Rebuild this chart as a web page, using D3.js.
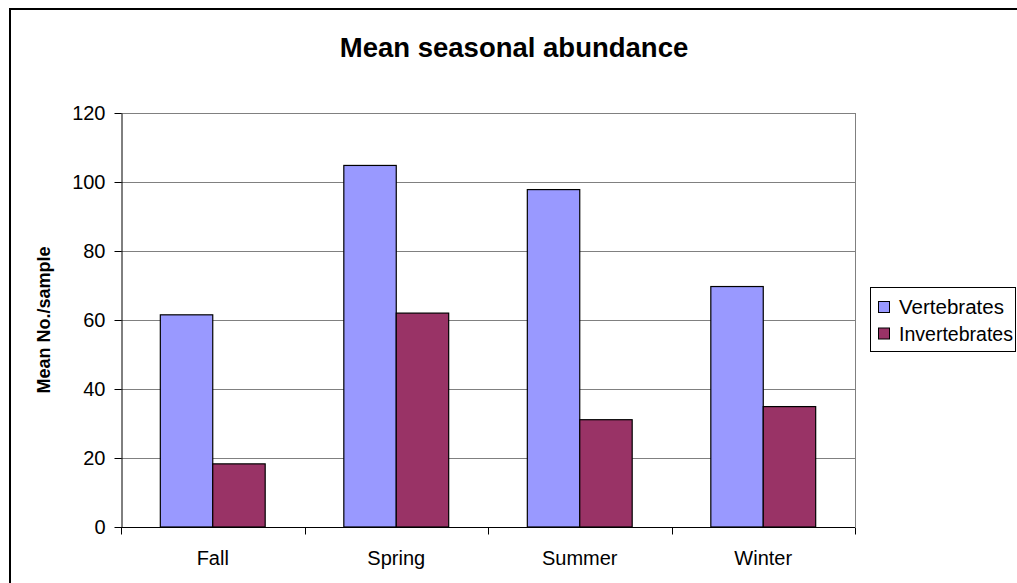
<!DOCTYPE html>
<html>
<head>
<meta charset="utf-8">
<script src="https://cdn.jsdelivr.net/npm/d3@7"></script>
<style>
  html, body { margin: 0; padding: 0; background: #fff; }
  svg { display: block; font-family: "Liberation Sans", Arial, sans-serif; }
</style>
</head>
<body>
<svg id="chart" width="1017" height="583"></svg>
<script>
// Seasons and mean counts per sample
const seasons = ["Fall", "Spring", "Summer", "Winter"];
const seriesNames = ["Vertebrates", "Invertebrates"];
const vertebrates = [61.5, 104.8, 97.8, 69.7];
const invertebrates = [18.3, 62.0, 31.1, 34.9];
const yTicks = [0, 20, 40, 60, 80, 100, 120];
const colors = ["#9999FF", "#993366"];

const svg = d3.select("#chart");
const W = 1017, H = 583;
const plot = { left: 121, right: 855, top: 113, bottom: 527 };

// Outer chart frame (runs off the right and bottom edges)
svg.append("rect")
  .attr("x", 10).attr("y", 9)
  .attr("width", W + 10).attr("height", H + 10)
  .attr("fill", "#fff").attr("stroke", "#000").attr("stroke-width", 2);

const x0 = d3.scaleBand().domain(seasons).range([plot.left, plot.right]).paddingInner(0).paddingOuter(0);
// Excel-style 150% gap: the two bars take 2/3.5 of each band, centred
const groupFrac = 2 / 3.5;
const x1 = d3.scaleBand().domain(seriesNames)
  .range([0, x0.bandwidth() * groupFrac]).padding(0);
const y = d3.scaleLinear().domain([0, 120]).range([plot.bottom, plot.top]);

// Horizontal gridlines
svg.append("g").selectAll("line").data(yTicks.filter(d => d > 0)).join("line")
  .attr("x1", plot.left).attr("x2", plot.right)
  .attr("y1", d => Math.round(y(d)) + 0.5).attr("y2", d => Math.round(y(d)) + 0.5)
  .attr("stroke", "#808080").attr("stroke-width", 1);

// Right edge of plot area
svg.append("line")
  .attr("x1", plot.right + 0.5).attr("x2", plot.right + 0.5)
  .attr("y1", plot.top).attr("y2", plot.bottom)
  .attr("stroke", "#808080").attr("stroke-width", 1);

// Bars
const rows = seasons.map((s, i) => ({ season: s, values: [vertebrates[i], invertebrates[i]] }));
const groups = svg.append("g").selectAll("g").data(rows).join("g")
  .attr("transform", d => `translate(${x0(d.season) + x0.bandwidth() * (1 - groupFrac) / 2},0)`);
groups.selectAll("rect").data(d => d.values.map((v, k) => ({ name: seriesNames[k], v, k }))).join("rect")
  .attr("x", d => x1(d.name))
  .attr("y", d => y(d.v))
  .attr("width", x1.bandwidth())
  .attr("height", d => y(0) - y(d.v))
  .attr("fill", d => colors[d.k])
  .attr("stroke", "#000").attr("stroke-width", 1.2);

// Y axis
const yAxis = d3.axisLeft(y).tickValues(yTicks).tickSize(7).tickPadding(9).tickSizeOuter(0);
const gy = svg.append("g").attr("transform", `translate(${plot.left + 0.5},0)`).call(yAxis);
gy.select(".domain").attr("stroke", "#000");
gy.selectAll(".tick line").attr("stroke", "#000");
gy.selectAll(".tick text").attr("font-size", 20).attr("fill", "#000").attr("font-family", "Liberation Sans, Arial, sans-serif");

// X axis with ticks between categories
const gx = svg.append("g").attr("transform", `translate(0,${plot.bottom + 0.5})`);
gx.append("line").attr("x1", plot.left).attr("x2", plot.right).attr("stroke", "#000");
const bounds = seasons.map(s => x0(s)).concat([plot.right]);
gx.selectAll("line.tk").data(bounds).join("line").attr("class", "tk")
  .attr("x1", d => Math.round(d) + 0.5).attr("x2", d => Math.round(d) + 0.5)
  .attr("y1", 0).attr("y2", 7).attr("stroke", "#000");
gx.selectAll("text").data(seasons).join("text")
  .attr("x", d => x0(d) + x0.bandwidth() / 2)
  .attr("y", 37)
  .attr("text-anchor", "middle").attr("font-size", 20).attr("fill", "#000")
  .text(d => d);

// Title
svg.append("text")
  .attr("x", 514).attr("y", 57)
  .attr("text-anchor", "middle").attr("font-size", 27.5).attr("font-weight", "bold")
  .text("Mean seasonal abundance");

// Y axis title
svg.append("text")
  .attr("transform", `translate(50,${(plot.top + plot.bottom) / 2}) rotate(-90)`)
  .attr("text-anchor", "middle").attr("font-size", 18).attr("font-weight", "bold")
  .text("Mean No./sample");

// Legend
const legendTextWidths = [105, 114];
const lg = svg.append("g").attr("transform", "translate(870,287)");
lg.append("rect").attr("x", 0.5).attr("y", 0.5).attr("width", 145).attr("height", 64)
  .attr("fill", "#fff").attr("stroke", "#000").attr("stroke-width", 1);
const items = lg.selectAll("g.item").data(seriesNames).join("g").attr("class", "item")
  .attr("transform", (d, i) => `translate(0,${14 + i * 26.5})`);
items.append("rect").attr("x", 8.5).attr("y", 0.5).attr("width", 11).attr("height", 11)
  .attr("fill", (d, i) => colors[i]).attr("stroke", "#000").attr("stroke-width", 1);
items.append("text").attr("x", 29).attr("y", 13)
  .attr("font-size", 19.5).attr("fill", "#000")
  .attr("textLength", (d, i) => legendTextWidths[i])
  .attr("lengthAdjust", "spacingAndGlyphs")
  .text(d => d);
</script>
</body>
</html>
